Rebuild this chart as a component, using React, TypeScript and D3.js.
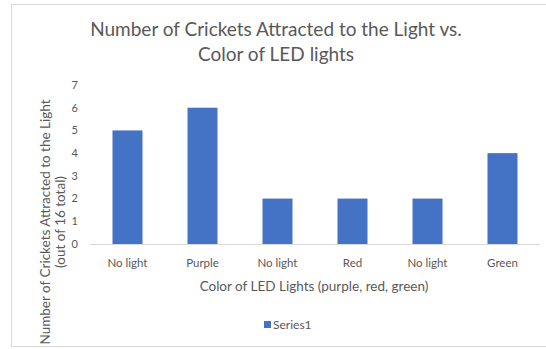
import React from "react";
import * as d3 from "d3";

const categories = ["No light", "Purple", "No light", "Red", "No light", "Green"];
const series1 = [5, 6, 2, 2, 2, 4];
const yTicks = [0, 1, 2, 3, 4, 5, 6, 7];
const titleLines = ["Number of Crickets Attracted to the Light vs.", "Color of LED lights"];
const yTitleLines = ["Number of Crickets Attracted to the Light", "(out of 16 total)"];
const xTitle = "Color of LED Lights (purple, red, green)";
const seriesName = "Series1";

export default function App() {
  const W = 546, H = 349;
  const left = 90, right = 540, top = 85, bottom = 244;
  const x = d3.scaleBand<number>().domain(categories.map((_, i) => i)).range([left, right]).paddingInner(0.6).paddingOuter(0.3);
  const y = d3.scaleLinear().domain([0, 7]).range([bottom, top]);
  const font = "Lato, 'Open Sans', sans-serif";
  const gray = "#595959";
  return (
    <svg width={W} height={H} style={{ position: "absolute", left: 0, top: 0 }} fontFamily={font}>
      <rect x={0} y={0} width={W} height={H} fill="#fff" />
      <rect x={11.5} y={4.5} width={W} height={342} fill="#fff" stroke="#d9d9d9" />
      {titleLines.map((t, i) => (
        <text key={i} x={276} y={36 + i * 25} textAnchor="middle" fontSize={19} fill={gray}>{t}</text>
      ))}
      {yTicks.map((t) => (
        <text key={t} x={78} y={y(t)} dy="0.35em" textAnchor="end" fontSize={11} fill={gray}>{t}</text>
      ))}
      <line x1={left} x2={right} y1={bottom + 0.5} y2={bottom + 0.5} stroke="#d9d9d9" />
      {series1.map((v, i) => (
        <rect key={i} x={x(i)} y={y(v)} width={x.bandwidth()} height={bottom - y(v)} fill="#4472C4" />
      ))}
      {categories.map((c, i) => (
        <text key={i} x={(x(i) as number) + x.bandwidth() / 2} y={267} textAnchor="middle" fontSize={11.5} fill={gray}>{c}</text>
      ))}
      <text x={314} y={291} textAnchor="middle" fontSize={13.5} fill={gray}>{xTitle}</text>
      {yTitleLines.map((t, i) => (
        <text key={i} transform={`translate(${50 + i * 15},${222}) rotate(-90)`} textAnchor="middle" fontSize={13.5} fill={gray}>{t}</text>
      ))}
      <rect x={264} y={321} width={7} height={7} fill="#4472C4" />
      <text x={273} y={328.5} fontSize={12} fill={gray}>{seriesName}</text>
    </svg>
  );
}
